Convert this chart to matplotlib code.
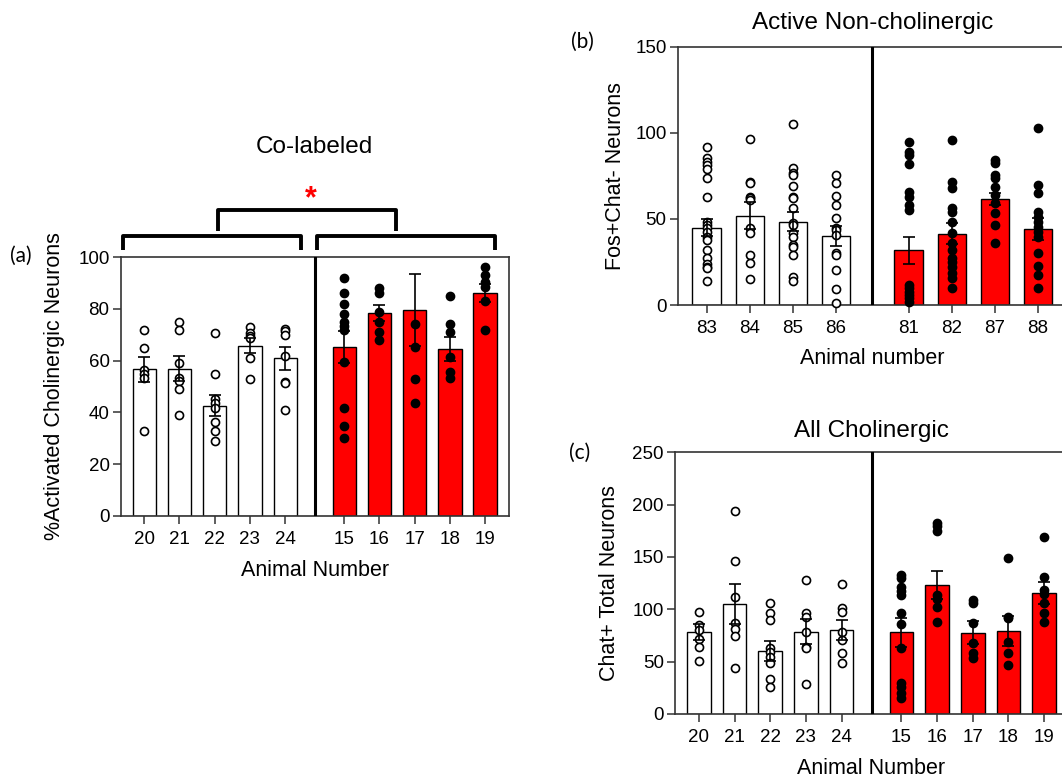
import numpy as np
import matplotlib
matplotlib.use("Agg")
import matplotlib.pyplot as plt

plt.rcParams['font.family'] = ['Liberation Sans', 'DejaVu Sans']

# (a) co-labeled, % of cholinergic neurons that are activated
colab_ctrl_ids = ['20', '21', '22', '23', '24']
colab_treat_ids = ['15', '16', '17', '18', '19']
colab_mean = [56.6, 56.9, 42.6, 65.8, 60.9, 65.3, 78.5, 79.5, 64.5, 86.1]
colab_sem = [4.9, 4.9, 4.1, 2.8, 4.4, 6.1, 3.0, 14.0, 4.8, 3.4]
colab_points = [
    [72, 65, 56.4, 54.7, 53.2, 32.9],
    [75.1, 71.9, 59.0, 53.2, 52.1, 48.9, 39.0],
    [70.8, 54.8, 45.0, 43.5, 41.5, 36.1, 32.9, 28.9],
    [73.2, 70.6, 69.5, 68.6, 60.9, 52.8],
    [72.1, 71.5, 69.9, 61.8, 51.9, 51.2, 40.9],
    [91.9, 86.1, 81.9, 78.1, 75.1, 73.4, 71.9, 59.6, 41.8, 34.8, 29.9],
    [88.3, 86.1, 79.0, 75.1, 71.2, 68.0],
    [74.2, 65.4, 52.9, 43.7],
    [85.0, 74.2, 71.2, 61.3, 55.7, 53.2],
    [96.1, 93.2, 90.6, 88.6, 83.2, 71.9],
]

# (b) active non-cholinergic, Fos+Chat- counts
nonchol_ctrl_ids = ['83', '84', '85', '86']
nonchol_treat_ids = ['81', '82', '87', '88']
nonchol_mean = [44.9, 51.9, 48.4, 40.3, 31.7, 41.4, 61.7, 43.9]
nonchol_sem = [5.0, 7.7, 5.4, 5.8, 8.0, 6.0, 3.5, 6.4]
nonchol_points = [
    [91.9, 85.2, 83.2, 81.3, 78.8, 73.5, 62.9, 48.4, 46.4, 44.5, 42.6, 39.7,
     37.7, 31.9, 27.1, 23.8, 22.3, 21.3, 14.1],
    [96.2, 71.6, 71.0, 62.5, 61.9, 61.0, 44.5, 41.6, 29.0, 24.2, 14.9],
    [104.9, 79.4, 76.4, 75.5, 69.1, 62.9, 62.3, 56.1, 47.4, 46.4, 41.6, 39.7,
     34.8, 33.9, 29.0, 16.1, 14.1],
    [75.5, 70.6, 63.3, 58.1, 50.3, 44.5, 43.5, 40.6, 30.4, 29.0, 20.3, 9.1, 1.0],
    [94.8, 89.0, 87.1, 81.9, 65.8, 62.9, 58.1, 55.2, 11.6, 9.7, 7.7, 5.8, 3.9, 1.9],
    [95.8, 71.6, 68.1, 56.1, 54.2, 48.4, 41.6, 35.8, 31.9, 27.1, 25.2, 22.3,
     18.4, 15.5, 9.7],
    [84.2, 82.6, 75.5, 73.5, 68.7, 63.9, 59.0, 53.2, 46.4, 35.8],
    [103.0, 69.7, 64.8, 54.2, 51.3, 48.4, 45.5, 42.6, 39.7, 30.0, 22.6, 17.4, 9.7],
]

# (c) all cholinergic, Chat+ totals
chol_ctrl_ids = ['20', '21', '22', '23', '24']
chol_treat_ids = ['15', '16', '17', '18', '19']
chol_mean = [78.3, 105.1, 60.2, 78.7, 79.9, 78.0, 123.2, 77.7, 79.6, 115.9]
chol_sem = [7.7, 19.1, 9.2, 12.1, 9.6, 14.0, 13.1, 10.8, 14.3, 10.5]
chol_points = [
    [97.8, 85.0, 80.3, 71.3, 63.7, 50.6],
    [194.3, 146.2, 112.1, 86.6, 80.9, 74.8, 43.6],
    [105.7, 96.2, 89.8, 62.7, 59.6, 54.1, 49.0, 33.1, 26.1],
    [128.0, 96.8, 93.0, 78.7, 64.3, 62.7, 28.7],
    [124.2, 101.0, 97.8, 78.7, 70.7, 58.0, 49.0],
    [132.8, 129.6, 121.0, 117.8, 113.7, 96.2, 86.0, 62.7, 29.9, 25.5, 19.7, 15.6],
    [182.2, 179.6, 175.2, 113.7, 109.6, 102.5, 88.2],
    [108.9, 105.7, 86.6, 67.5, 58.0, 53.2],
    [149.4, 93.0, 91.4, 69.1, 58.6, 46.8],
    [169.4, 130.6, 118.5, 114.6, 105.7, 96.2, 88.2],
]

W, H = 1062, 782
fig = plt.figure(figsize=(W / 100, H / 100), dpi=100)


def px_axes(left, top, right, bottom):
    return fig.add_axes([left / W, 1 - bottom / H, (right - left) / W, (bottom - top) / H])


def bar_panel(ax, ctrl_ids, treat_ids, means, sems, points, ymax, ystep):
    n1, n2 = len(ctrl_ids), len(treat_ids)
    gap = 1.68
    pos = list(range(n1)) + [n1 - 1 + gap + i for i in range(n2)]
    colors = ['white'] * n1 + ['#ff0000'] * n2
    ax.bar(pos, means, width=0.66, color=colors, edgecolor='black',
           linewidth=1.0, zorder=2)
    for i, (p, pts) in enumerate(zip(pos, points)):
        face = 'white' if i < n1 else 'black'
        ax.plot(np.full(len(pts), p), pts, 'o', ms=5.8, mfc=face, mec='black',
                mew=1.2, zorder=3, clip_on=False)
    ax.errorbar(pos, means, yerr=sems, fmt='none', ecolor='black',
                elinewidth=1.2, capsize=4, capthick=1.2, zorder=4)
    ax.axvline((n1 - 1 + pos[n1]) / 2, color='black', lw=2.2, zorder=5)
    ax.set_xlim(-0.67, pos[-1] + 0.67)
    ax.set_ylim(0, ymax)
    ax.set_yticks(np.arange(0, ymax + 1, ystep))
    ax.set_xticks(pos)
    ax.set_xticklabels(ctrl_ids + treat_ids)
    for s in ax.spines.values():
        s.set_linewidth(1.2)
        s.set_color('#333333')
    ax.tick_params(axis='both', direction='out', length=6, width=1.1,
                   color='#333333', labelsize=13.5)
    ax.tick_params(axis='y', pad=2)
    ax.tick_params(axis='x', pad=5)
    return pos


# panel (a)
ax_a = px_axes(120.7, 257.3, 508.7, 515.7)
bar_panel(ax_a, colab_ctrl_ids, colab_treat_ids, colab_mean, colab_sem,
          colab_points, 100, 20)
ax_a.set_ylabel('%Activated Cholinergic Neurons', fontsize=15.5)
ax_a.yaxis.set_label_coords(-0.143, 0.5)
ax_a.set_xlabel('Animal Number', fontsize=15.5)
ax_a.xaxis.set_label_coords(0.5, -0.17)
ax_a.text(0.5, 1.427, 'Co-labeled', transform=ax_a.transAxes, ha='center',
          va='center', fontsize=17.5)

# group brackets and significance star
bkw = dict(transform=ax_a.transAxes, clip_on=False, color='black', lw=2.8,
           solid_joinstyle='round', solid_capstyle='butt')
ax_a.plot([0.006, 0.006, 0.465, 0.465], [1.028, 1.082, 1.082, 1.028], **bkw)
ax_a.plot([0.506, 0.506, 0.965, 0.965], [1.028, 1.082, 1.082, 1.028], **bkw)
ax_a.plot([0.251, 0.251, 0.710, 0.710], [1.103, 1.183, 1.183, 1.103], **bkw)
ax_a.text(0.491, 1.225, '*', transform=ax_a.transAxes, ha='center',
          va='center', color='#ff0000', fontsize=22, fontweight='bold')

# panel (b)
ax_b = px_axes(677.7, 46.7, 1067, 305)
bar_panel(ax_b, nonchol_ctrl_ids, nonchol_treat_ids, nonchol_mean, nonchol_sem,
          nonchol_points, 150, 50)
ax_b.set_ylabel('Fos+Chat- Neurons', fontsize=15.5)
ax_b.yaxis.set_label_coords(-0.133, 0.5)
ax_b.set_xlabel('Animal number', fontsize=15.5)
ax_b.xaxis.set_label_coords(0.5, -0.165)
ax_b.text(0.5, 1.09, 'Active Non-cholinergic', transform=ax_b.transAxes,
          ha='center', va='center', fontsize=17.5)

# panel (c)
ax_c = px_axes(675, 452.3, 1068, 714)
bar_panel(ax_c, chol_ctrl_ids, chol_treat_ids, chol_mean, chol_sem,
          chol_points, 250, 50)
ax_c.set_ylabel('Chat+ Total Neurons', fontsize=15.5)
ax_c.yaxis.set_label_coords(-0.14, 0.5)
ax_c.set_xlabel('Animal Number', fontsize=15.5)
ax_c.xaxis.set_label_coords(0.5, -0.167)
ax_c.text(0.5, 1.081, 'All Cholinergic', transform=ax_c.transAxes,
          ha='center', va='center', fontsize=17.5)

# panel letters
for lbl, x, y in [('(a)', 21, 256), ('(b)', 582, 42), ('(c)', 580, 453)]:
    fig.text(x / W, 1 - y / H, lbl, ha='center', va='center', fontsize=15,
             family=['Lato', 'DejaVu Sans'])

fig.savefig('out.png', dpi=100)
